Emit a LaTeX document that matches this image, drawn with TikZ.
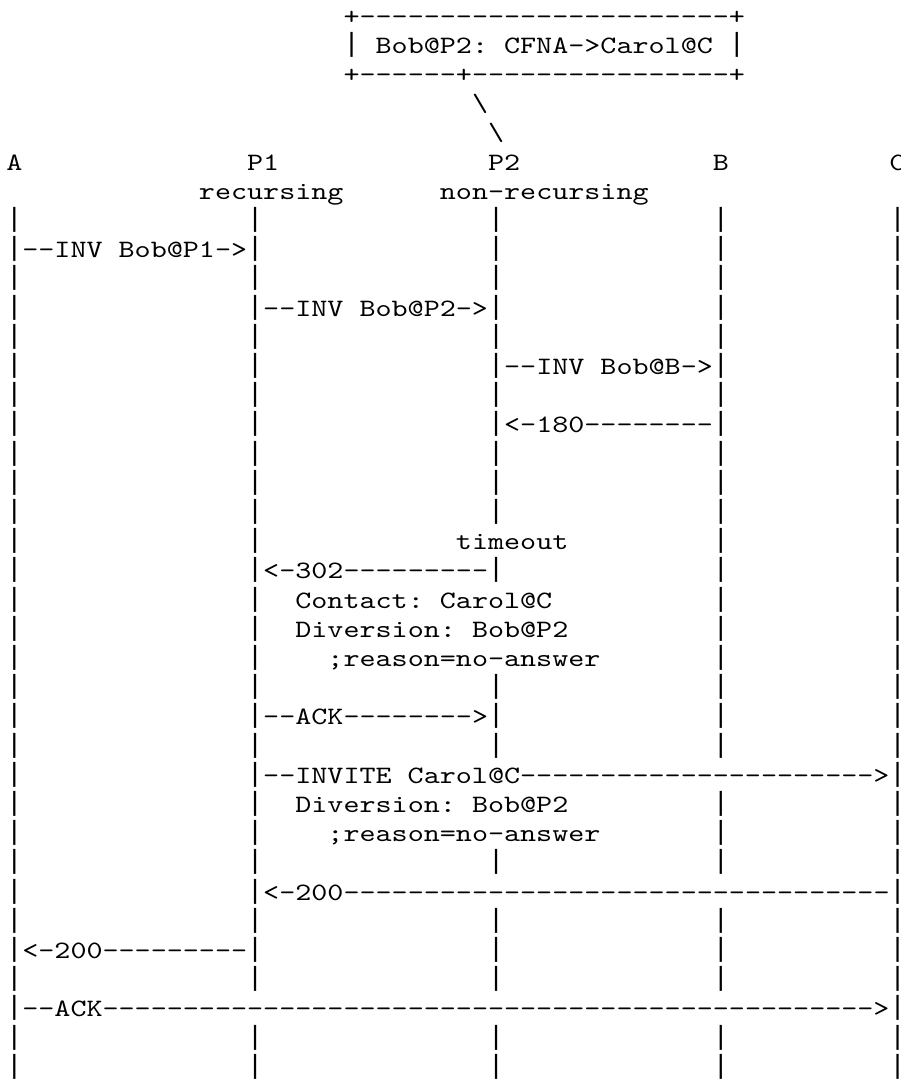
\documentclass[tikz,border=0pt]{standalone}
\usepackage{fontspec}
\setmonofont{lmmono10-regular.otf}
\newfontfamily\barfont{DejaVu Sans Mono}
\usepackage{graphicx}
\usepackage{tikz}
\newcommand{\asciiw}[1]{\scalebox{1.2236}[1]{#1}}
\newcommand{\vbar}{\raisebox{1pt}{\scalebox{0.872}[1]{\barfont |}}}

\begin{document}
\begin{tikzpicture}[x=8.03pt,y=-14.6pt,
    ascii/.style={anchor=base west,inner sep=0pt,outer sep=0pt,
      font=\ttfamily\fontsize{12.5pt}{14.6pt}\selectfont\frenchspacing}]
  % page frame
  \useasboundingbox (0pt,0pt) rectangle (450pt,-541pt);
  \begin{scope}[shift={(0.3904,0.8219)}]

    % Forwarding note on P2
    \node[ascii] (notetop) at (21,0) {\asciiw{+-----------------------+}};
    \node[ascii] (notetext) at (21,1) {\asciiw{\vbar{} Bob@P2: CFNA->Carol@C \vbar}};
    \node[ascii] (notebot) at (21,2) {\asciiw{+------+----------------+}};
    \node[ascii] (notelinka) at (29,3) {\asciiw{\textbackslash}};
    \node[ascii] (notelinkb) at (30,4) {\asciiw{\textbackslash}};

    % Parties
    \node[ascii] (nameA) at (0,5) {\asciiw{A}};
    \node[ascii] (nameP1) at (15,5) {\asciiw{P1}};
    \node[ascii] (nameP2) at (30,5) {\asciiw{P2}};
    \node[ascii] (nameB) at (44,5) {\asciiw{B}};
    \node[ascii] (nameC) at (55,5) {\asciiw{C}};
    \node[ascii] (roleP1) at (12,6) {\asciiw{recursing}};
    \node[ascii] (roleP2) at (27,6) {\asciiw{non-recursing}};

    % Lifelines
    \foreach \r in {7,9,11,13,15,16,17,23,25,29,31,33,35,36}
      \foreach \c in {0,15,30,44,55}
        \node[ascii] (bar-\c-\r) at (\c,\r) {\asciiw{\vbar}};
    \foreach \r in {18,20,21,22,27,28}
      \foreach \c in {0,15,44,55}
        \node[ascii] (bar-\c-\r) at (\c,\r) {\asciiw{\vbar}};
    \foreach \r in {8,32}
      \foreach \c in {30,44,55}
        \node[ascii] (bar-\c-\r) at (\c,\r) {\asciiw{\vbar}};
    \foreach \r in {10,19,24}
      \foreach \c in {0,44,55}
        \node[ascii] (bar-\c-\r) at (\c,\r) {\asciiw{\vbar}};
    \foreach \r in {12,14}
      \foreach \c in {0,15,55}
        \node[ascii] (bar-\c-\r) at (\c,\r) {\asciiw{\vbar}};
    \foreach \r in {26,30}
      \node[ascii] (bar-0-\r) at (0,\r) {\asciiw{\vbar}};

    % Messages
    \node[ascii] (invP1) at (0,8) {\asciiw{\vbar--INV Bob@P1->\vbar}};
    \node[ascii] (invP2) at (15,10) {\asciiw{\vbar--INV Bob@P2->\vbar}};
    \node[ascii] (invB) at (30,12) {\asciiw{\vbar--INV Bob@B->\vbar}};
    \node[ascii] (ringB) at (30,14) {\asciiw{\vbar<-180--------\vbar}};
    \node[ascii] (timeoutP2) at (28,18) {\asciiw{timeout}};
    \node[ascii] (redirP2) at (15,19) {\asciiw{\vbar<-302---------\vbar}};
    \node[ascii] (contactP2) at (18,20) {\asciiw{Contact: Carol@C}};
    \node[ascii] (divP2) at (18,21) {\asciiw{Diversion: Bob@P2}};
    \node[ascii] (reasonP2) at (20,22) {\asciiw{;reason=no-answer}};
    \node[ascii] (ackP2) at (15,24) {\asciiw{\vbar--ACK-------->\vbar}};
    \node[ascii] (inviteC) at (15,26) {\asciiw{\vbar--INVITE Carol@C---------------------->\vbar}};
    \node[ascii] (divC) at (18,27) {\asciiw{Diversion: Bob@P2}};
    \node[ascii] (reasonC) at (20,28) {\asciiw{;reason=no-answer}};
    \node[ascii] (okC) at (15,30) {\asciiw{\vbar<-200----------------------------------\vbar}};
    \node[ascii] (okA) at (0,32) {\asciiw{\vbar<-200---------\vbar}};
    \node[ascii] (ackC) at (0,34) {\asciiw{\vbar--ACK------------------------------------------------>\vbar}};
  \end{scope}
\end{tikzpicture}
\end{document}
